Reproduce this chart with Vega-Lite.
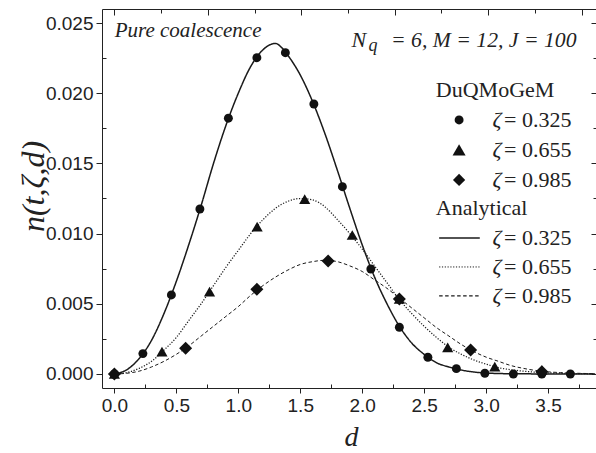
{
  "$schema": "https://vega.github.io/schema/vega-lite/v6.json",
  "autosize": {"type": "none"},
  "padding": {"left": 102, "top": 9, "right": 0, "bottom": 65},
  "width": 494,
  "height": 379,
  "background": "white",
  "config": {
    "view": {"stroke": "#222", "strokeWidth": 1},
    "axis": {"grid": false, "domain": false, "tickColor": "#222", "tickWidth": 1, "labelColor": "#222", "labelFont": "Liberation Sans", "labelFontSize": 19, "titleColor": "#222"}
  },
  "datasets": {
    "curves": [
      {"s": "0.325", "d": 0, "n": 0}, {"s": "0.325", "d": 0.1, "n": 0.0003}, {"s": "0.325", "d": 0.2, "n": 0.0011}, {"s": "0.325", "d": 0.3, "n": 0.0024}, {"s": "0.325", "d": 0.4, "n": 0.0043}, {"s": "0.325", "d": 0.5, "n": 0.0066}, {"s": "0.325", "d": 0.6, "n": 0.0092}, {"s": "0.325", "d": 0.7, "n": 0.012}, {"s": "0.325", "d": 0.8, "n": 0.015}, {"s": "0.325", "d": 0.9, "n": 0.0177}, {"s": "0.325", "d": 1.0, "n": 0.02}, {"s": "0.325", "d": 1.1, "n": 0.0219}, {"s": "0.325", "d": 1.2, "n": 0.0231}, {"s": "0.325", "d": 1.3, "n": 0.02355}, {"s": "0.325", "d": 1.35, "n": 0.02325}, {"s": "0.325", "d": 1.4, "n": 0.0227}, {"s": "0.325", "d": 1.5, "n": 0.0213}, {"s": "0.325", "d": 1.6, "n": 0.0194}, {"s": "0.325", "d": 1.7, "n": 0.0171}, {"s": "0.325", "d": 1.8, "n": 0.0145}, {"s": "0.325", "d": 1.9, "n": 0.0118}, {"s": "0.325", "d": 2.0, "n": 0.0092}, {"s": "0.325", "d": 2.1, "n": 0.0069}, {"s": "0.325", "d": 2.2, "n": 0.005}, {"s": "0.325", "d": 2.3, "n": 0.0034}, {"s": "0.325", "d": 2.4, "n": 0.0022}, {"s": "0.325", "d": 2.5, "n": 0.0014}, {"s": "0.325", "d": 2.6, "n": 0.0008}, {"s": "0.325", "d": 2.7, "n": 0.0005}, {"s": "0.325", "d": 2.8, "n": 0.00028}, {"s": "0.325", "d": 2.9, "n": 0.00014}, {"s": "0.325", "d": 3.0, "n": 0.00007}, {"s": "0.325", "d": 3.1, "n": 0.00003}, {"s": "0.325", "d": 3.3, "n": 0.00001}, {"s": "0.325", "d": 3.6, "n": 0}, {"s": "0.325", "d": 3.88, "n": 0},
      {"s": "0.655", "d": 0, "n": 0}, {"s": "0.655", "d": 0.1, "n": 0.0001}, {"s": "0.655", "d": 0.2, "n": 0.0004}, {"s": "0.655", "d": 0.3, "n": 0.0009}, {"s": "0.655", "d": 0.4, "n": 0.0017}, {"s": "0.655", "d": 0.5, "n": 0.0026}, {"s": "0.655", "d": 0.6, "n": 0.0038}, {"s": "0.655", "d": 0.7, "n": 0.005}, {"s": "0.655", "d": 0.8, "n": 0.0063}, {"s": "0.655", "d": 0.9, "n": 0.0076}, {"s": "0.655", "d": 1.0, "n": 0.0088}, {"s": "0.655", "d": 1.1, "n": 0.01}, {"s": "0.655", "d": 1.2, "n": 0.011}, {"s": "0.655", "d": 1.3, "n": 0.0118}, {"s": "0.655", "d": 1.4, "n": 0.0123}, {"s": "0.655", "d": 1.5, "n": 0.0125}, {"s": "0.655", "d": 1.6, "n": 0.0124}, {"s": "0.655", "d": 1.7, "n": 0.0119}, {"s": "0.655", "d": 1.8, "n": 0.011}, {"s": "0.655", "d": 1.9, "n": 0.01}, {"s": "0.655", "d": 2.0, "n": 0.0089}, {"s": "0.655", "d": 2.1, "n": 0.0077}, {"s": "0.655", "d": 2.2, "n": 0.0065}, {"s": "0.655", "d": 2.3, "n": 0.0053}, {"s": "0.655", "d": 2.4, "n": 0.0043}, {"s": "0.655", "d": 2.5, "n": 0.0034}, {"s": "0.655", "d": 2.6, "n": 0.0026}, {"s": "0.655", "d": 2.7, "n": 0.0019}, {"s": "0.655", "d": 2.8, "n": 0.0014}, {"s": "0.655", "d": 2.9, "n": 0.001}, {"s": "0.655", "d": 3.0, "n": 0.0007}, {"s": "0.655", "d": 3.1, "n": 0.00045}, {"s": "0.655", "d": 3.2, "n": 0.0003}, {"s": "0.655", "d": 3.3, "n": 0.0002}, {"s": "0.655", "d": 3.4, "n": 0.00012}, {"s": "0.655", "d": 3.5, "n": 0.00008}, {"s": "0.655", "d": 3.6, "n": 0.00005}, {"s": "0.655", "d": 3.7, "n": 0.00003}, {"s": "0.655", "d": 3.88, "n": 0.00001},
      {"s": "0.985", "d": 0, "n": 0}, {"s": "0.985", "d": 0.1, "n": 0.00005}, {"s": "0.985", "d": 0.2, "n": 0.0002}, {"s": "0.985", "d": 0.3, "n": 0.0005}, {"s": "0.985", "d": 0.4, "n": 0.0009}, {"s": "0.985", "d": 0.5, "n": 0.0014}, {"s": "0.985", "d": 0.6, "n": 0.002}, {"s": "0.985", "d": 0.7, "n": 0.0027}, {"s": "0.985", "d": 0.8, "n": 0.0034}, {"s": "0.985", "d": 0.9, "n": 0.0041}, {"s": "0.985", "d": 1.0, "n": 0.0048}, {"s": "0.985", "d": 1.1, "n": 0.0056}, {"s": "0.985", "d": 1.2, "n": 0.0063}, {"s": "0.985", "d": 1.3, "n": 0.0069}, {"s": "0.985", "d": 1.4, "n": 0.0074}, {"s": "0.985", "d": 1.5, "n": 0.0078}, {"s": "0.985", "d": 1.6, "n": 0.008}, {"s": "0.985", "d": 1.7, "n": 0.0081}, {"s": "0.985", "d": 1.8, "n": 0.008}, {"s": "0.985", "d": 1.9, "n": 0.0077}, {"s": "0.985", "d": 2.0, "n": 0.0073}, {"s": "0.985", "d": 2.1, "n": 0.0067}, {"s": "0.985", "d": 2.2, "n": 0.0061}, {"s": "0.985", "d": 2.3, "n": 0.0054}, {"s": "0.985", "d": 2.4, "n": 0.0047}, {"s": "0.985", "d": 2.5, "n": 0.004}, {"s": "0.985", "d": 2.6, "n": 0.0033}, {"s": "0.985", "d": 2.7, "n": 0.0027}, {"s": "0.985", "d": 2.8, "n": 0.0021}, {"s": "0.985", "d": 2.9, "n": 0.0016}, {"s": "0.985", "d": 3.0, "n": 0.0012}, {"s": "0.985", "d": 3.1, "n": 0.0009}, {"s": "0.985", "d": 3.2, "n": 0.0006}, {"s": "0.985", "d": 3.3, "n": 0.0004}, {"s": "0.985", "d": 3.4, "n": 0.00025}, {"s": "0.985", "d": 3.5, "n": 0.00015}, {"s": "0.985", "d": 3.6, "n": 0.0001}, {"s": "0.985", "d": 3.7, "n": 0.00006}, {"s": "0.985", "d": 3.88, "n": 0.00002}
    ],
    "markers": [
      {"s": "0.325", "d": 0, "n": 0}, {"s": "0.325", "d": 0.23, "n": 0.00145}, {"s": "0.325", "d": 0.46, "n": 0.00563}, {"s": "0.325", "d": 0.69, "n": 0.01175}, {"s": "0.325", "d": 0.92, "n": 0.01822}, {"s": "0.325", "d": 1.15, "n": 0.02253}, {"s": "0.325", "d": 1.38, "n": 0.02289}, {"s": "0.325", "d": 1.61, "n": 0.01923}, {"s": "0.325", "d": 1.84, "n": 0.01334}, {"s": "0.325", "d": 2.07, "n": 0.00748}, {"s": "0.325", "d": 2.3, "n": 0.00333}, {"s": "0.325", "d": 2.53, "n": 0.00119}, {"s": "0.325", "d": 2.76, "n": 0.00038}, {"s": "0.325", "d": 2.99, "n": 0.00005}, {"s": "0.325", "d": 3.22, "n": 0}, {"s": "0.325", "d": 3.45, "n": 0}, {"s": "0.325", "d": 3.68, "n": 0},
      {"s": "0.655", "d": 0, "n": 0}, {"s": "0.655", "d": 0.384, "n": 0.00159}, {"s": "0.655", "d": 0.768, "n": 0.00586}, {"s": "0.655", "d": 1.152, "n": 0.0105}, {"s": "0.655", "d": 1.536, "n": 0.01245}, {"s": "0.655", "d": 1.92, "n": 0.0099}, {"s": "0.655", "d": 2.3, "n": 0.00534}, {"s": "0.655", "d": 2.69, "n": 0.0019}, {"s": "0.655", "d": 3.07, "n": 0.00052}, {"s": "0.655", "d": 3.45, "n": 0.00028},
      {"s": "0.985", "d": 0, "n": 0}, {"s": "0.985", "d": 0.575, "n": 0.00183}, {"s": "0.985", "d": 1.15, "n": 0.00603}, {"s": "0.985", "d": 1.725, "n": 0.00805}, {"s": "0.985", "d": 2.3, "n": 0.00534}, {"s": "0.985", "d": 2.875, "n": 0.00171}, {"s": "0.985", "d": 3.45, "n": 0.00016}
    ]
  },
  "data": {"values": [{"note": "annotation"}]},
  "resolve": {"axis": {"x": "independent", "y": "independent"}},
  "layer": [
    {
      "data": {"name": "curves"},
      "mark": {"type": "line", "interpolate": "monotone", "color": "#1a1a1a"},
      "encoding": {
        "x": {"field": "d", "type": "quantitative", "scale": {"domain": [-0.1, 3.887], "nice": false, "zero": false},
          "axis": {"orient": "bottom", "values": [0, 0.5, 1, 1.5, 2, 2.5, 3, 3.5], "format": ".1f", "tickSize": 5, "labelPadding": 3, "title": "d", "titleFont": "Liberation Serif", "titleFontStyle": "italic", "titleFontWeight": "normal", "titleFontSize": 28, "titleX": 249, "titleY": 57, "titleBaseline": "alphabetic", "titleAlign": "center"}},
        "y": {"field": "n", "type": "quantitative", "scale": {"domain": [-0.001, 0.026], "nice": false, "zero": false},
          "axis": {"orient": "left", "values": [0, 0.005, 0.01, 0.015, 0.02, 0.025], "format": ".3f", "tickSize": 6, "labelPadding": 3, "title": "n(t,ζ,d)", "titleFont": "Liberation Serif", "titleFontStyle": "italic", "titleFontWeight": "normal", "titleFontSize": 32, "titleX": -59, "titleY": 177, "titleAngle": 270, "titleBaseline": "alphabetic", "titleAlign": "center"}},
        "strokeDash": {"field": "s", "type": "nominal", "scale": {"domain": ["0.325", "0.655", "0.985"], "range": [[1, 0], [1.2, 1.6], [3.5, 2.5]]}, "legend": null},
        "strokeWidth": {"field": "s", "type": "ordinal", "scale": {"domain": ["0.325", "0.655", "0.985"], "range": [1.5, 1, 1.2]}, "legend": null}
      }
    },
    {
      "data": {"name": "markers"},
      "mark": {"type": "point", "filled": true, "opacity": 1, "color": "#111"},
      "encoding": {
        "x": {"field": "d", "type": "quantitative", "scale": {"domain": [-0.1, 3.887], "nice": false, "zero": false},
          "axis": {"orient": "bottom", "values": [0.25, 0.75, 1.25, 1.75, 2.25, 2.75, 3.25, 3.75], "labels": false, "tickSize": 4, "offset": -4, "title": null}},
        "y": {"field": "n", "type": "quantitative", "scale": {"domain": [-0.001, 0.026], "nice": false, "zero": false},
          "axis": {"orient": "left", "values": [0.0025, 0.0075, 0.0125, 0.0175, 0.0225], "labels": false, "tickSize": 4, "offset": -4, "title": null}},
        "shape": {"field": "s", "type": "nominal", "scale": {"domain": ["0.325", "0.655", "0.985"], "range": ["circle", "triangle-up", "diamond"]}, "legend": null},
        "size": {"field": "s", "type": "ordinal", "scale": {"domain": ["0.325", "0.655", "0.985"], "range": [80, 170, 150]}, "legend": null}
      }
    },
    {
      "mark": {"type": "text", "text": "Pure coalescence", "font": "Liberation Serif", "fontStyle": "italic", "fontSize": 21, "align": "left", "baseline": "alphabetic", "color": "#222"},
      "encoding": {
        "x": {"datum": 0.003, "type": "quantitative", "scale": {"domain": [-0.1, 3.887], "nice": false, "zero": false},
          "axis": {"orient": "top", "values": [0, 0.754, 1.508, 2.262, 3.016, 3.77], "labels": false, "tickSize": 6, "offset": -6, "title": null}},
        "y": {"datum": 0.02399, "type": "quantitative", "scale": {"domain": [-0.001, 0.026], "nice": false, "zero": false},
          "axis": {"orient": "right", "values": [0, 0.005, 0.01, 0.015, 0.02, 0.025], "labels": false, "tickSize": 5, "offset": -5, "title": null}}
      }
    },
    {
      "mark": {"type": "text", "text": "N", "font": "Liberation Serif", "fontStyle": "italic", "fontSize": 22, "align": "left", "baseline": "alphabetic", "color": "#222"},
      "encoding": {
        "x": {"datum": 1.914, "type": "quantitative", "scale": {"domain": [-0.1, 3.887], "nice": false, "zero": false},
          "axis": {"orient": "top", "values": [0.377, 1.131, 1.885, 2.639, 3.393], "labels": false, "tickSize": 4, "offset": -4, "title": null}},
        "y": {"datum": 0.023317, "type": "quantitative", "scale": {"domain": [-0.001, 0.026], "nice": false, "zero": false},
          "axis": {"orient": "right", "values": [0.0025, 0.0075, 0.0125, 0.0175, 0.0225], "labels": false, "tickSize": 3, "offset": -3, "title": null}}
      }
    },
    {
      "mark": {"type": "text", "text": "q", "font": "Liberation Serif", "fontStyle": "italic", "fontSize": 18, "align": "left", "baseline": "alphabetic", "color": "#222"},
      "encoding": {
        "x": {"datum": 2.05, "type": "quantitative", "scale": {"domain": [-0.1, 3.887], "nice": false, "zero": false}, "axis": null},
        "y": {"datum": 0.022975, "type": "quantitative", "scale": {"domain": [-0.001, 0.026], "nice": false, "zero": false}, "axis": null}
      }
    },
    {
      "mark": {"type": "text", "text": "= 6, M = 12, J = 100", "font": "Liberation Serif", "fontStyle": "italic", "fontSize": 21.7, "align": "right", "baseline": "alphabetic", "color": "#222"},
      "encoding": {
        "x": {"datum": 3.7296, "type": "quantitative", "scale": {"domain": [-0.1, 3.887], "nice": false, "zero": false}, "axis": null},
        "y": {"datum": 0.023317, "type": "quantitative", "scale": {"domain": [-0.001, 0.026], "nice": false, "zero": false}, "axis": null}
      }
    },
    {
      "mark": {"type": "text", "text": "DuQMoGeM", "font": "Liberation Serif", "fontSize": 22, "align": "left", "baseline": "middle", "color": "#222"},
      "encoding": {
        "x": {"datum": 2.594, "type": "quantitative", "scale": {"domain": [-0.1, 3.887], "nice": false, "zero": false}, "axis": null},
        "y": {"datum": 0.020232, "type": "quantitative", "scale": {"domain": [-0.001, 0.026], "nice": false, "zero": false}, "axis": null}
      }
    },
    {
      "mark": {"type": "text", "text": "Analytical", "font": "Liberation Serif", "fontSize": 22, "align": "left", "baseline": "middle", "color": "#222"},
      "encoding": {
        "x": {"datum": 2.594, "type": "quantitative", "scale": {"domain": [-0.1, 3.887], "nice": false, "zero": false}, "axis": null},
        "y": {"datum": 0.011826, "type": "quantitative", "scale": {"domain": [-0.001, 0.026], "nice": false, "zero": false}, "axis": null}
      }
    },
    {
      "mark": {"type": "point", "shape": "circle", "filled": true, "opacity": 1, "color": "#111", "size": 80},
      "encoding": {
        "x": {"datum": 2.782, "type": "quantitative", "scale": {"domain": [-0.1, 3.887], "nice": false, "zero": false}, "axis": null},
        "y": {"datum": 0.018095, "type": "quantitative", "scale": {"domain": [-0.001, 0.026], "nice": false, "zero": false}, "axis": null}
      }
    },
    {
      "mark": {"type": "point", "shape": "triangle-up", "filled": true, "opacity": 1, "color": "#111", "size": 170},
      "encoding": {
        "x": {"datum": 2.782, "type": "quantitative", "scale": {"domain": [-0.1, 3.887], "nice": false, "zero": false}, "axis": null},
        "y": {"datum": 0.015958, "type": "quantitative", "scale": {"domain": [-0.001, 0.026], "nice": false, "zero": false}, "axis": null}
      }
    },
    {
      "mark": {"type": "point", "shape": "diamond", "filled": true, "opacity": 1, "color": "#111", "size": 150},
      "encoding": {
        "x": {"datum": 2.782, "type": "quantitative", "scale": {"domain": [-0.1, 3.887], "nice": false, "zero": false}, "axis": null},
        "y": {"datum": 0.013821, "type": "quantitative", "scale": {"domain": [-0.001, 0.026], "nice": false, "zero": false}, "axis": null}
      }
    },
    {
      "mark": {"type": "rule", "color": "#1a1a1a", "strokeWidth": 1.5},
      "encoding": {
        "x": {"datum": 2.621, "type": "quantitative", "scale": {"domain": [-0.1, 3.887], "nice": false, "zero": false}, "axis": null},
        "x2": {"datum": 2.949},
        "y": {"datum": 0.009689, "type": "quantitative", "scale": {"domain": [-0.001, 0.026], "nice": false, "zero": false}, "axis": null}
      }
    },
    {
      "mark": {"type": "rule", "color": "#1a1a1a", "strokeWidth": 1, "strokeDash": [1.2, 1.6]},
      "encoding": {
        "x": {"datum": 2.621, "type": "quantitative", "scale": {"domain": [-0.1, 3.887], "nice": false, "zero": false}, "axis": null},
        "x2": {"datum": 2.949},
        "y": {"datum": 0.007623, "type": "quantitative", "scale": {"domain": [-0.001, 0.026], "nice": false, "zero": false}, "axis": null}
      }
    },
    {
      "mark": {"type": "rule", "color": "#1a1a1a", "strokeWidth": 1.2, "strokeDash": [3.5, 2.5]},
      "encoding": {
        "x": {"datum": 2.621, "type": "quantitative", "scale": {"domain": [-0.1, 3.887], "nice": false, "zero": false}, "axis": null},
        "x2": {"datum": 2.949},
        "y": {"datum": 0.005557, "type": "quantitative", "scale": {"domain": [-0.001, 0.026], "nice": false, "zero": false}, "axis": null}
      }
    },
    {"mark": {"type": "text", "text": "ζ", "font": "Liberation Serif", "fontStyle": "italic", "fontSize": 22, "align": "left", "baseline": "middle", "color": "#222"},
      "encoding": {"x": {"datum": 3.052, "type": "quantitative", "scale": {"domain": [-0.1, 3.887], "nice": false, "zero": false}, "axis": null}, "y": {"datum": 0.018095, "type": "quantitative", "scale": {"domain": [-0.001, 0.026], "nice": false, "zero": false}, "axis": null}}},
    {"mark": {"type": "text", "text": "ζ", "font": "Liberation Serif", "fontStyle": "italic", "fontSize": 22, "align": "left", "baseline": "middle", "color": "#222"},
      "encoding": {"x": {"datum": 3.052, "type": "quantitative", "scale": {"domain": [-0.1, 3.887], "nice": false, "zero": false}, "axis": null}, "y": {"datum": 0.015958, "type": "quantitative", "scale": {"domain": [-0.001, 0.026], "nice": false, "zero": false}, "axis": null}}},
    {"mark": {"type": "text", "text": "ζ", "font": "Liberation Serif", "fontStyle": "italic", "fontSize": 22, "align": "left", "baseline": "middle", "color": "#222"},
      "encoding": {"x": {"datum": 3.052, "type": "quantitative", "scale": {"domain": [-0.1, 3.887], "nice": false, "zero": false}, "axis": null}, "y": {"datum": 0.013821, "type": "quantitative", "scale": {"domain": [-0.001, 0.026], "nice": false, "zero": false}, "axis": null}}},
    {"mark": {"type": "text", "text": "ζ", "font": "Liberation Serif", "fontStyle": "italic", "fontSize": 22, "align": "left", "baseline": "middle", "color": "#222"},
      "encoding": {"x": {"datum": 3.052, "type": "quantitative", "scale": {"domain": [-0.1, 3.887], "nice": false, "zero": false}, "axis": null}, "y": {"datum": 0.009689, "type": "quantitative", "scale": {"domain": [-0.001, 0.026], "nice": false, "zero": false}, "axis": null}}},
    {"mark": {"type": "text", "text": "ζ", "font": "Liberation Serif", "fontStyle": "italic", "fontSize": 22, "align": "left", "baseline": "middle", "color": "#222"},
      "encoding": {"x": {"datum": 3.052, "type": "quantitative", "scale": {"domain": [-0.1, 3.887], "nice": false, "zero": false}, "axis": null}, "y": {"datum": 0.007623, "type": "quantitative", "scale": {"domain": [-0.001, 0.026], "nice": false, "zero": false}, "axis": null}}},
    {"mark": {"type": "text", "text": "ζ", "font": "Liberation Serif", "fontStyle": "italic", "fontSize": 22, "align": "left", "baseline": "middle", "color": "#222"},
      "encoding": {"x": {"datum": 3.052, "type": "quantitative", "scale": {"domain": [-0.1, 3.887], "nice": false, "zero": false}, "axis": null}, "y": {"datum": 0.005557, "type": "quantitative", "scale": {"domain": [-0.001, 0.026], "nice": false, "zero": false}, "axis": null}}},
    {"mark": {"type": "text", "text": "= 0.325", "font": "Liberation Serif", "fontSize": 22, "align": "left", "baseline": "middle", "color": "#222"},
      "encoding": {"x": {"datum": 3.145, "type": "quantitative", "scale": {"domain": [-0.1, 3.887], "nice": false, "zero": false}, "axis": null}, "y": {"datum": 0.018095, "type": "quantitative", "scale": {"domain": [-0.001, 0.026], "nice": false, "zero": false}, "axis": null}}},
    {"mark": {"type": "text", "text": "= 0.655", "font": "Liberation Serif", "fontSize": 22, "align": "left", "baseline": "middle", "color": "#222"},
      "encoding": {"x": {"datum": 3.145, "type": "quantitative", "scale": {"domain": [-0.1, 3.887], "nice": false, "zero": false}, "axis": null}, "y": {"datum": 0.015958, "type": "quantitative", "scale": {"domain": [-0.001, 0.026], "nice": false, "zero": false}, "axis": null}}},
    {"mark": {"type": "text", "text": "= 0.985", "font": "Liberation Serif", "fontSize": 22, "align": "left", "baseline": "middle", "color": "#222"},
      "encoding": {"x": {"datum": 3.145, "type": "quantitative", "scale": {"domain": [-0.1, 3.887], "nice": false, "zero": false}, "axis": null}, "y": {"datum": 0.013821, "type": "quantitative", "scale": {"domain": [-0.001, 0.026], "nice": false, "zero": false}, "axis": null}}},
    {"mark": {"type": "text", "text": "= 0.325", "font": "Liberation Serif", "fontSize": 22, "align": "left", "baseline": "middle", "color": "#222"},
      "encoding": {"x": {"datum": 3.145, "type": "quantitative", "scale": {"domain": [-0.1, 3.887], "nice": false, "zero": false}, "axis": null}, "y": {"datum": 0.009689, "type": "quantitative", "scale": {"domain": [-0.001, 0.026], "nice": false, "zero": false}, "axis": null}}},
    {"mark": {"type": "text", "text": "= 0.655", "font": "Liberation Serif", "fontSize": 22, "align": "left", "baseline": "middle", "color": "#222"},
      "encoding": {"x": {"datum": 3.145, "type": "quantitative", "scale": {"domain": [-0.1, 3.887], "nice": false, "zero": false}, "axis": null}, "y": {"datum": 0.007623, "type": "quantitative", "scale": {"domain": [-0.001, 0.026], "nice": false, "zero": false}, "axis": null}}},
    {"mark": {"type": "text", "text": "= 0.985", "font": "Liberation Serif", "fontSize": 22, "align": "left", "baseline": "middle", "color": "#222"},
      "encoding": {"x": {"datum": 3.145, "type": "quantitative", "scale": {"domain": [-0.1, 3.887], "nice": false, "zero": false}, "axis": null}, "y": {"datum": 0.005557, "type": "quantitative", "scale": {"domain": [-0.001, 0.026], "nice": false, "zero": false}, "axis": null}}}
  ]
}
